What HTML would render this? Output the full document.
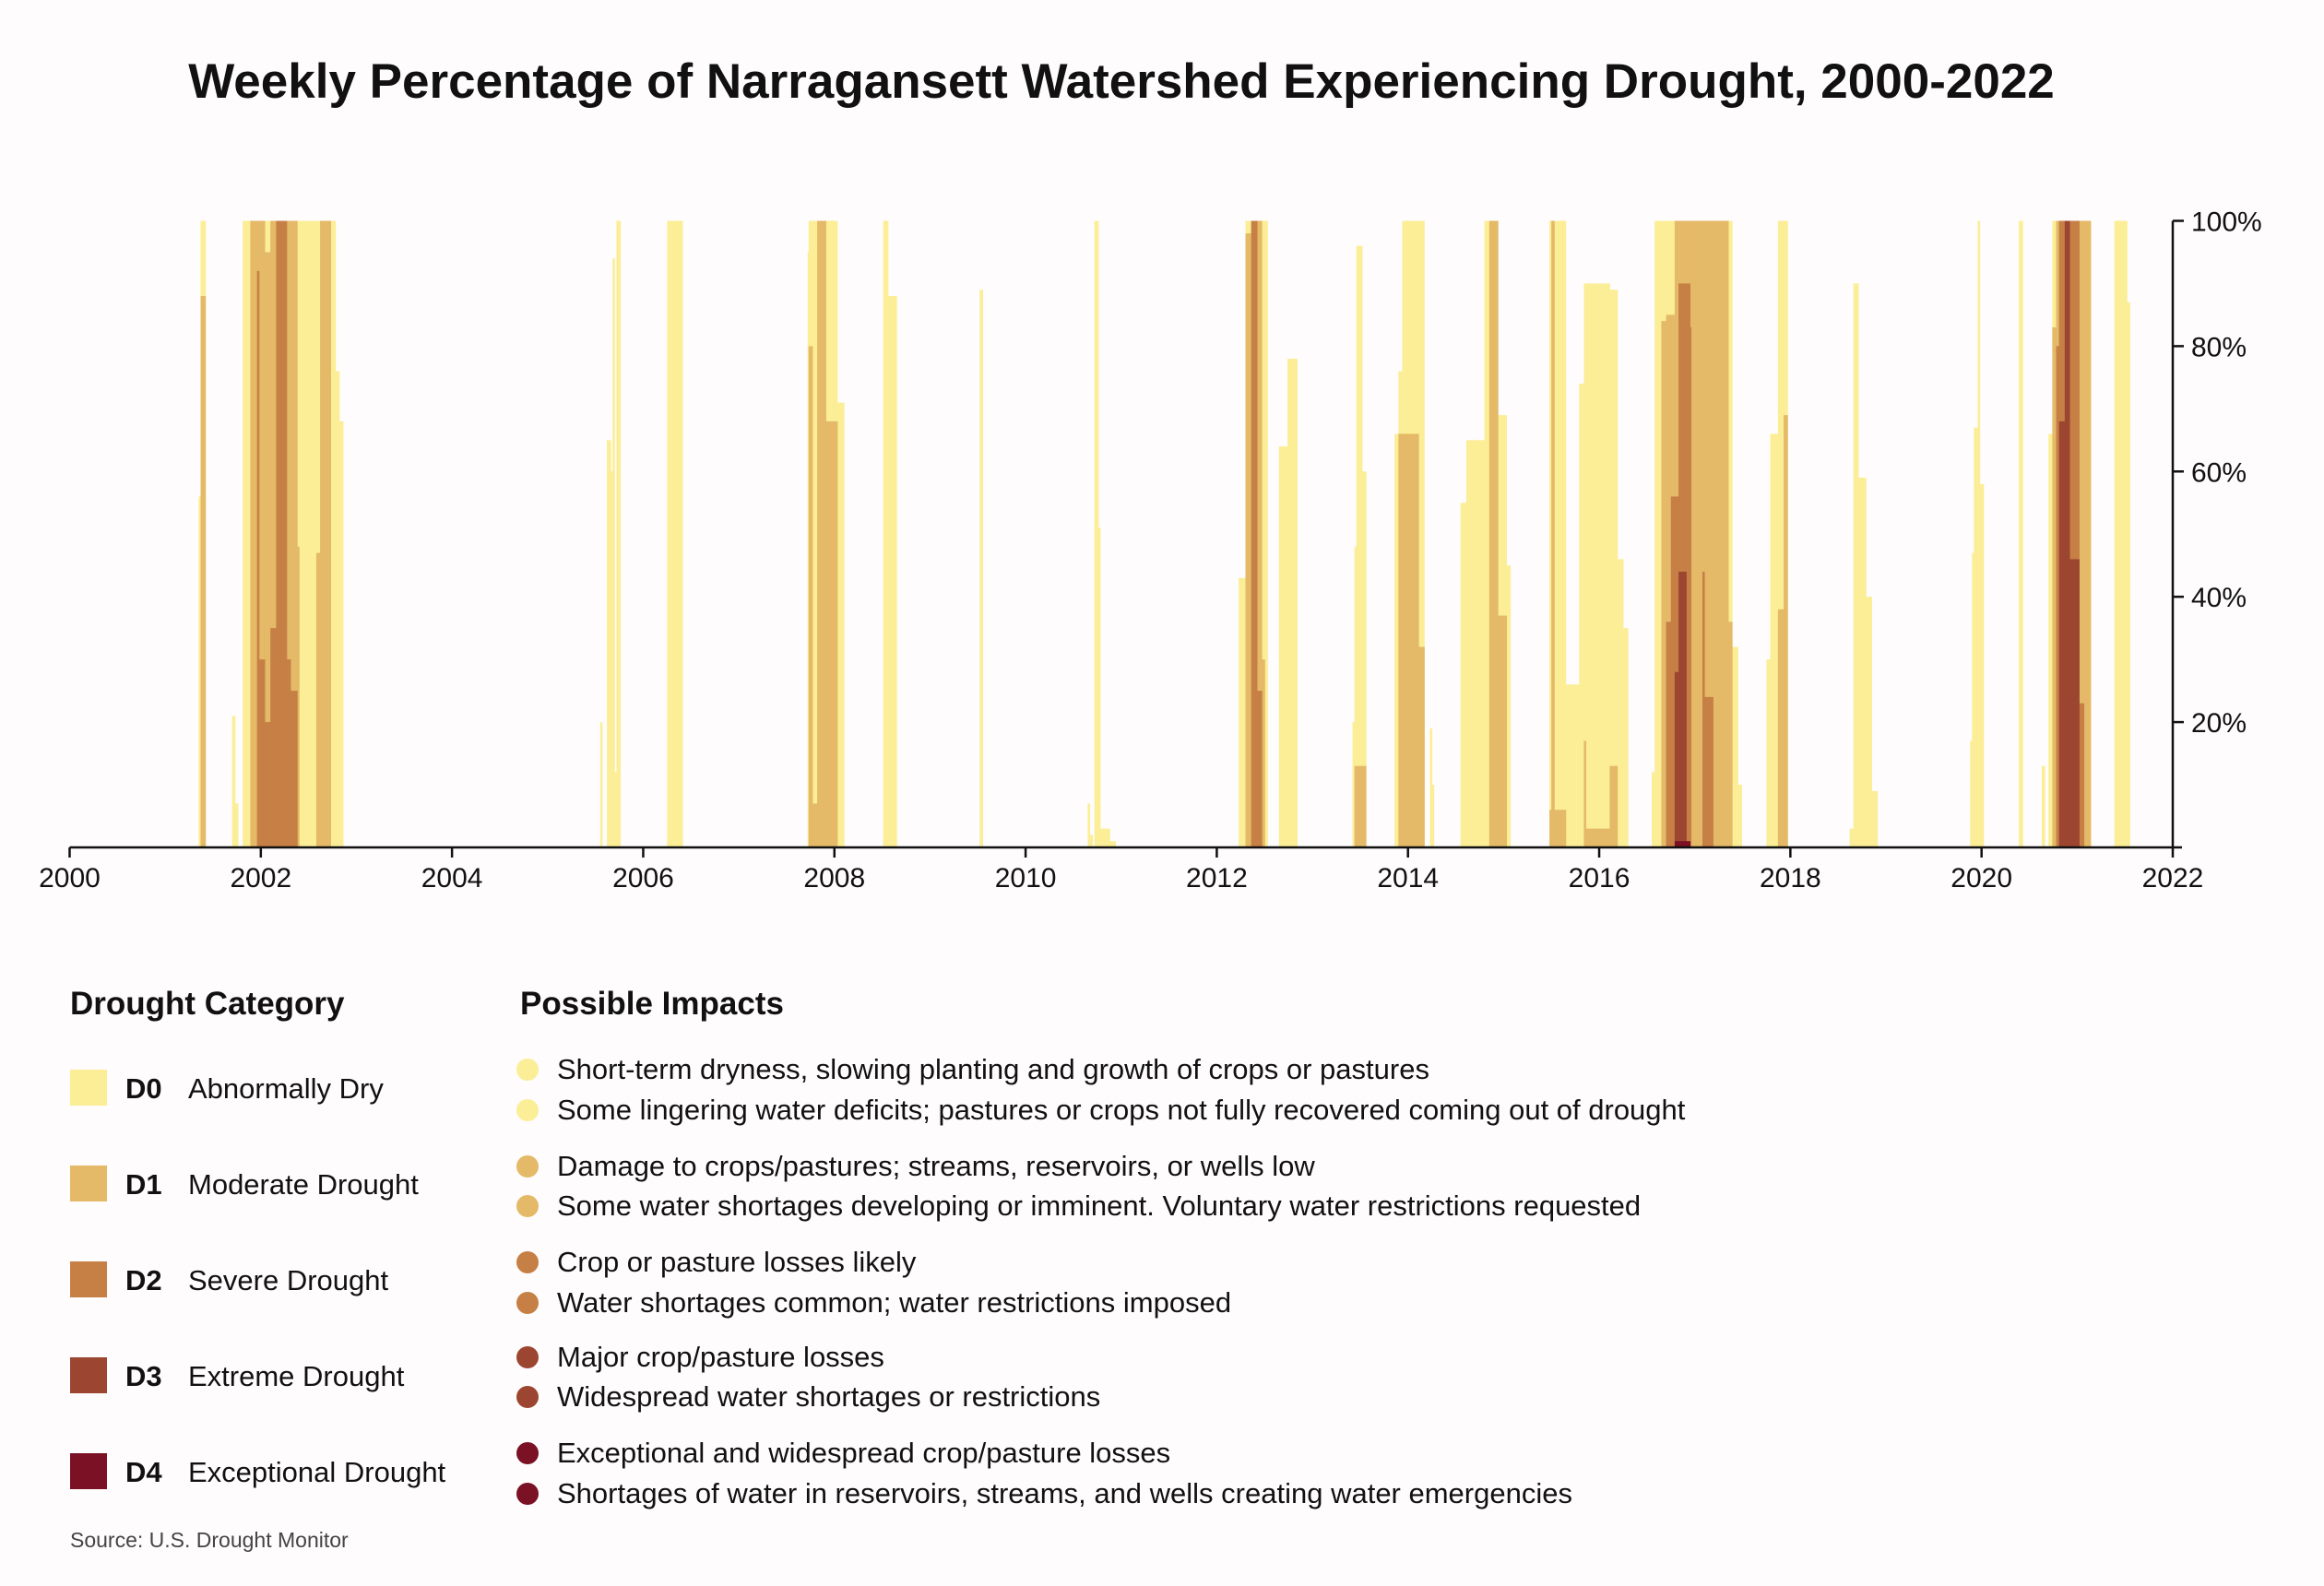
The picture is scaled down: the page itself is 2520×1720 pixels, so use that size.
<!DOCTYPE html>
<html><head><meta charset="utf-8">
<style>
html,body{margin:0;padding:0;background:#fefcfc;}
svg{display:block;font-family:"Liberation Sans",sans-serif;}
</style></head>
<body>
<svg id="chart" width="2520" height="1720" viewBox="0 0 2520 1720" xmlns="http://www.w3.org/2000/svg">
<rect x="0" y="0" width="2520" height="1720" fill="#fefcfc"/>
<text x="1216" y="106" text-anchor="middle" font-size="53" font-weight="bold" fill="#111">Weekly Percentage of Narragansett Watershed Experiencing Drought, 2000-2022</text>
<g id="bars"></g>
<g id="axes"></g>

<g font-size="31" fill="#111">
<text x="76" y="1100" font-size="35" font-weight="bold">Drought Category</text>
<rect x="76" y="1160" width="40" height="39" fill="#fbee96"/>
<text x="136" y="1191" font-weight="bold">D0</text>
<text x="204" y="1191">Abnormally Dry</text>
<rect x="76" y="1264" width="40" height="39" fill="#e4b968"/>
<text x="136" y="1295" font-weight="bold">D1</text>
<text x="204" y="1295">Moderate Drought</text>
<rect x="76" y="1368" width="40" height="39" fill="#c67f45"/>
<text x="136" y="1399" font-weight="bold">D2</text>
<text x="204" y="1399">Severe Drought</text>
<rect x="76" y="1472" width="40" height="39" fill="#9c4631"/>
<text x="136" y="1503" font-weight="bold">D3</text>
<text x="204" y="1503">Extreme Drought</text>
<rect x="76" y="1576" width="40" height="39" fill="#7a1124"/>
<text x="136" y="1607" font-weight="bold">D4</text>
<text x="204" y="1607">Exceptional Drought</text>
</g>

<g font-size="31" fill="#111">
<text x="564" y="1100" font-size="35" font-weight="bold">Possible Impacts</text>
<circle cx="572" cy="1160" r="12" fill="#fbee96"/>
<text x="604" y="1170">Short-term dryness, slowing planting and growth of crops or pastures</text>
<circle cx="572" cy="1204" r="12" fill="#fbee96"/>
<text x="604" y="1214">Some lingering water deficits; pastures or crops not fully recovered coming out of drought</text>
<circle cx="572" cy="1265" r="12" fill="#e4b968"/>
<text x="604" y="1275">Damage to crops/pastures; streams, reservoirs, or wells low</text>
<circle cx="572" cy="1308" r="12" fill="#e4b968"/>
<text x="604" y="1318">Some water shortages developing or imminent. Voluntary water restrictions requested</text>
<circle cx="572" cy="1369" r="12" fill="#c67f45"/>
<text x="604" y="1379">Crop or pasture losses likely</text>
<circle cx="572" cy="1413" r="12" fill="#c67f45"/>
<text x="604" y="1423">Water shortages common; water restrictions imposed</text>
<circle cx="572" cy="1472" r="12" fill="#9c4631"/>
<text x="604" y="1482">Major crop/pasture losses</text>
<circle cx="572" cy="1515" r="12" fill="#9c4631"/>
<text x="604" y="1525">Widespread water shortages or restrictions</text>
<circle cx="572" cy="1576" r="12" fill="#7a1124"/>
<text x="604" y="1586">Exceptional and widespread crop/pasture losses</text>
<circle cx="572" cy="1620" r="12" fill="#7a1124"/>
<text x="604" y="1630">Shortages of water in reservoirs, streams, and wells creating water emergencies</text>
</g>
<text x="76" y="1678" font-size="23" fill="#444">Source: U.S. Drought Monitor</text>
</svg>
<script>
// Episode start/end (years after 2000) and cumulative % area in each category
const segStart = [1.35,1.37,1.70,1.73,1.81,1.89,1.96,1.98,2.04,2.10,2.16,2.27,2.31,2.38,2.40,2.58,2.62,2.73,2.78,2.82,
 5.55,5.62,5.66,5.68,5.70,5.72,5.74,6.25,
 7.72,7.73,7.77,7.82,7.91,8.03,8.51,8.56,9.52,10.65,10.67,10.72,10.76,10.78,10.88,
 12.23,12.30,12.36,12.42,12.47,12.50,12.65,12.74,13.42,13.44,13.46,13.52,13.86,13.90,13.94,14.11,14.23,14.25,
 14.55,14.61,14.80,14.85,14.94,15.03,15.48,15.50,15.53,15.65,15.79,15.84,15.86,16.11,16.19,16.25,
 16.55,16.58,16.65,16.70,16.75,16.79,16.83,16.91,16.95,16.96,17.08,17.10,17.19,17.35,17.39,17.45,
 17.75,17.79,17.87,17.93,18.62,18.66,18.71,18.79,18.85,19.88,19.90,19.92,19.96,19.98,20.39,20.63,
 20.70,20.74,20.78,20.81,20.87,20.92,21.02,21.07,21.39,21.52];
const segEnd = [1.37,1.42,1.73,1.76,1.89,1.96,1.98,2.04,2.10,2.16,2.27,2.31,2.38,2.40,2.58,2.62,2.73,2.78,2.82,2.86,
 5.57,5.66,5.68,5.70,5.72,5.74,5.76,6.41,
 7.73,7.77,7.82,7.91,8.03,8.10,8.56,8.65,9.55,10.67,10.70,10.76,10.78,10.88,10.94,
 12.30,12.36,12.42,12.47,12.50,12.53,12.74,12.84,13.44,13.46,13.52,13.56,13.90,13.94,14.11,14.17,14.25,14.27,
 14.61,14.80,14.85,14.94,15.03,15.07,15.50,15.53,15.65,15.79,15.84,15.86,16.11,16.19,16.25,16.30,
 16.58,16.65,16.70,16.75,16.79,16.83,16.91,16.95,16.96,17.08,17.10,17.19,17.35,17.39,17.45,17.49,
 17.79,17.87,17.93,17.97,18.66,18.71,18.79,18.85,18.91,19.90,19.92,19.96,19.98,20.02,20.43,20.66,
 20.74,20.78,20.81,20.87,20.92,21.02,21.07,21.14,21.52,21.55];
const d0 = [56,100,21,7,100,100,100,100,100,100,100,100,100,100,100,100,100,100,76,68,
 20,65,60,94,12,100,100,100,
 95,100,100,100,100,71,100,88,89,7,2,100,51,3,1,
 43,100,100,100,100,100,64,78,20,48,96,60,66,76,100,100,19,10,
 55,65,100,100,69,45,100,100,100,26,74,90,90,89,46,35,
 12,100,100,100,100,100,100,100,100,100,100,100,100,100,32,10,
 30,66,100,100,3,90,59,40,9,17,47,67,100,58,100,13,
 66,100,100,100,100,100,100,100,100,87];
const d1 = [0,88,0,0,0,100,100,100,95,100,100,100,100,48,0,47,100,0,0,0,
 0,0,0,0,0,0,0,0,
 0,80,7,100,68,0,0,0,0,0,0,0,0,0,0,
 0,98,100,100,30,0,0,0,0,13,13,13,0,66,66,32,0,0,
 0,0,0,100,37,0,6,100,6,0,0,17,3,13,0,0,
 0,0,84,85,85,100,100,100,100,100,100,100,100,36,0,0,
 0,0,38,69,0,0,0,0,0,0,0,0,0,0,0,0,
 0,83,100,100,100,100,100,100,0,0];
const d2 = [0,0,0,0,0,0,92,30,20,35,100,30,25,0,0,0,0,0,0,0,
 0,0,0,0,0,0,0,0,
 0,0,0,0,0,0,0,0,0,0,0,0,0,0,0,
 0,0,100,25,0,0,0,0,0,0,0,0,0,0,0,0,0,0,
 0,0,0,0,0,0,0,0,0,0,0,0,0,0,0,0,
 0,0,0,36,56,56,90,90,83,0,44,24,0,0,0,0,
 0,0,0,0,0,0,0,0,0,0,0,0,0,0,0,0,
 0,0,80,100,100,100,23,0,0,0];
const d3 = [0,0,0,0,0,0,0,0,0,0,0,0,0,0,0,0,0,0,0,0,
 0,0,0,0,0,0,0,0,
 0,0,0,0,0,0,0,0,0,0,0,0,0,0,0,
 0,0,0,0,0,0,0,0,0,0,0,0,0,0,0,0,0,0,
 0,0,0,0,0,0,0,0,0,0,0,0,0,0,0,0,
 0,0,0,0,0,28,44,0,0,0,0,0,0,0,0,0,
 0,0,0,0,0,0,0,0,0,0,0,0,0,0,0,0,
 0,0,0,68,100,46,0,0,0,0];
const d4 = [0,0,0,0,0,0,0,0,0,0,0,0,0,0,0,0,0,0,0,0,
 0,0,0,0,0,0,0,0,
 0,0,0,0,0,0,0,0,0,0,0,0,0,0,0,
 0,0,0,0,0,0,0,0,0,0,0,0,0,0,0,0,0,0,
 0,0,0,0,0,0,0,0,0,0,0,0,0,0,0,0,
 0,0,0,0,0,1,1,1,0,0,0,0,0,0,0,0,
 0,0,0,0,0,0,0,0,0,0,0,0,0,0,0,0,
 0,0,0,0,0,0,0,0,0,0];
const xTicks = [0,2,4,6,8,10,12,14,16,18,20,22];
const xTickLabels = ["2000","2002","2004","2006","2008","2010","2012","2014","2016","2018","2020","2022"];
const yTicks = [20,40,60,80,100];
const yTickLabels = ["20%","40%","60%","80%","100%"];
const colors = ["#fbee96","#e4b968","#c67f45","#9c4631","#7a1124"];

const NS = "http://www.w3.org/2000/svg";
const X0 = 75.5, X1 = 2356, Y0 = 919, Y1 = 239.5;
function xScale(v){ return X0 + v/22*(X1-X0); }
function yScale(v){ return Y0 - v/100*(Y0-Y1); }

const bars = document.getElementById('bars');
const series = [d0,d1,d2,d3,d4];
series.forEach(function(arr, k){
  arr.forEach(function(v, i){
    if (!v) return;
    const r = document.createElementNS(NS,'rect');
    const xa = xScale(segStart[i]), xb = xScale(segEnd[i]);
    r.setAttribute('x', xa);
    r.setAttribute('width', Math.max(1, xb - xa + 0.5));
    r.setAttribute('y', yScale(v));
    r.setAttribute('height', Y0 - yScale(v));
    r.setAttribute('fill', colors[k]);
    
    
    bars.appendChild(r);
  });
});

const axes = document.getElementById('axes');
function line(x1,y1,x2,y2,name){
  const l = document.createElementNS(NS,'line');
  l.setAttribute('x1',x1); l.setAttribute('y1',y1); l.setAttribute('x2',x2); l.setAttribute('y2',y2);
  l.setAttribute('stroke','#111'); l.setAttribute('stroke-width','2.5');
  
  
  axes.appendChild(l);
}
function text(x,y,s,anchor,name){
  const t = document.createElementNS(NS,'text');
  t.setAttribute('x',x); t.setAttribute('y',y); t.setAttribute('text-anchor',anchor);
  t.setAttribute('font-size','30'); t.setAttribute('fill','#111');
  t.textContent = s;
  
  
  axes.appendChild(t);
}
line(X0, Y0, X1 + 10, Y0, 'x-axis-line');
line(X1, Y0, X1, Y1, 'y-axis-line');
xTicks.forEach(function(v,i){
  line(xScale(v), Y0, xScale(v), Y0 + 11, 'x-tick');
  text(xScale(v), Y0 + 43, xTickLabels[i], 'middle', 'x-tick-label');
});
yTicks.forEach(function(v,i){
  line(X1, yScale(v), X1 + 12, yScale(v), 'y-tick');
  text(X1 + 20, yScale(v) + 11, yTickLabels[i], 'start', 'y-tick-label');
});
</script>
</body></html>
